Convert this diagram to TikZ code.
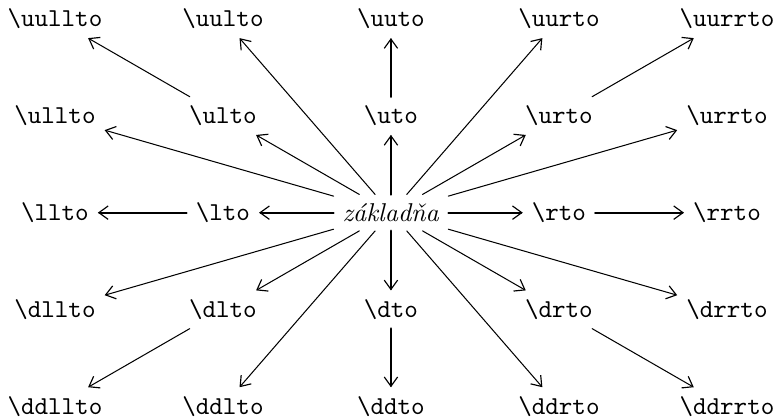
\documentclass[tikz,border=0pt]{standalone}
\usepackage{tikz}
\usetikzlibrary{arrows.meta}
\newcommand{\xycmd}[1]{\texttt{\textbackslash #1}}
\begin{document}
\begin{tikzpicture}[line cap=round,line join=round,
  >={Straight Barb[length=3.6pt,width=5.2pt,line width=0.45pt]},
  x=2.29cm,y=1.32cm,
  diag/.style={->,line width=0.4pt},
  horiz/.style={->,line width=0.75pt},
  vert/.style={->,line width=1.1pt}]
\useasboundingbox (-2.327,-2.134) rectangle (2.298,2.196);
% base
\node (c) at (0,0) {\textit{základňa}};
% first ring
\node (ulto) at (-1,1) {\xycmd{ulto}};
\node (uto) at (0,1) {\xycmd{uto}};
\node (urto) at (1,1) {\xycmd{urto}};
\node (lto) at (-1,0) {\xycmd{lto}};
\node (rto) at (1,0) {\xycmd{rto}};
\node (dlto) at (-1,-1) {\xycmd{dlto}};
\node (dto) at (0,-1) {\xycmd{dto}};
\node (drto) at (1,-1) {\xycmd{drto}};
% second ring
\node (uullto) at (-2,2) {\xycmd{uullto}};
\node (uulto) at (-1,2) {\xycmd{uulto}};
\node (uuto) at (0,2) {\xycmd{uuto}};
\node (uurto) at (1,2) {\xycmd{uurto}};
\node (uurrto) at (2,2) {\xycmd{uurrto}};
\node (ullto) at (-2,1) {\xycmd{ullto}};
\node (urrto) at (2,1) {\xycmd{urrto}};
\node (llto) at (-2,0) {\xycmd{llto}};
\node (rrto) at (2,0) {\xycmd{rrto}};
\node (dllto) at (-2,-1) {\xycmd{dllto}};
\node (drrto) at (2,-1) {\xycmd{drrto}};
\node (ddllto) at (-2,-2) {\xycmd{ddllto}};
\node (ddlto) at (-1,-2) {\xycmd{ddlto}};
\node (ddto) at (0,-2) {\xycmd{ddto}};
\node (ddrto) at (1,-2) {\xycmd{ddrto}};
\node (ddrrto) at (2,-2) {\xycmd{ddrrto}};
% arrows from the base
\draw[diag] (c) -- (ulto);
\draw[vert] (c) -- (uto);
\draw[diag] (c) -- (urto);
\draw[horiz] (c) -- (lto);
\draw[horiz] (c) -- (rto);
\draw[diag] (c) -- (dlto);
\draw[vert] (c) -- (dto);
\draw[diag] (c) -- (drto);
\draw[diag] (c) -- (uulto);
\draw[diag] (c) -- (uurto);
\draw[diag] (c) -- (ullto);
\draw[diag] (c) -- (urrto);
\draw[diag] (c) -- (dllto);
\draw[diag] (c) -- (drrto);
\draw[diag] (c) -- (ddlto);
\draw[diag] (c) -- (ddrto);
% chained arrows
\draw[diag] (ulto) -- (uullto);
\draw[vert] (uto) -- (uuto);
\draw[diag] (urto) -- (uurrto);
\draw[horiz] (lto) -- (llto);
\draw[horiz] (rto) -- (rrto);
\draw[diag] (dlto) -- (ddllto);
\draw[vert] (dto) -- (ddto);
\draw[diag] (drto) -- (ddrrto);
\end{tikzpicture}
\end{document}
